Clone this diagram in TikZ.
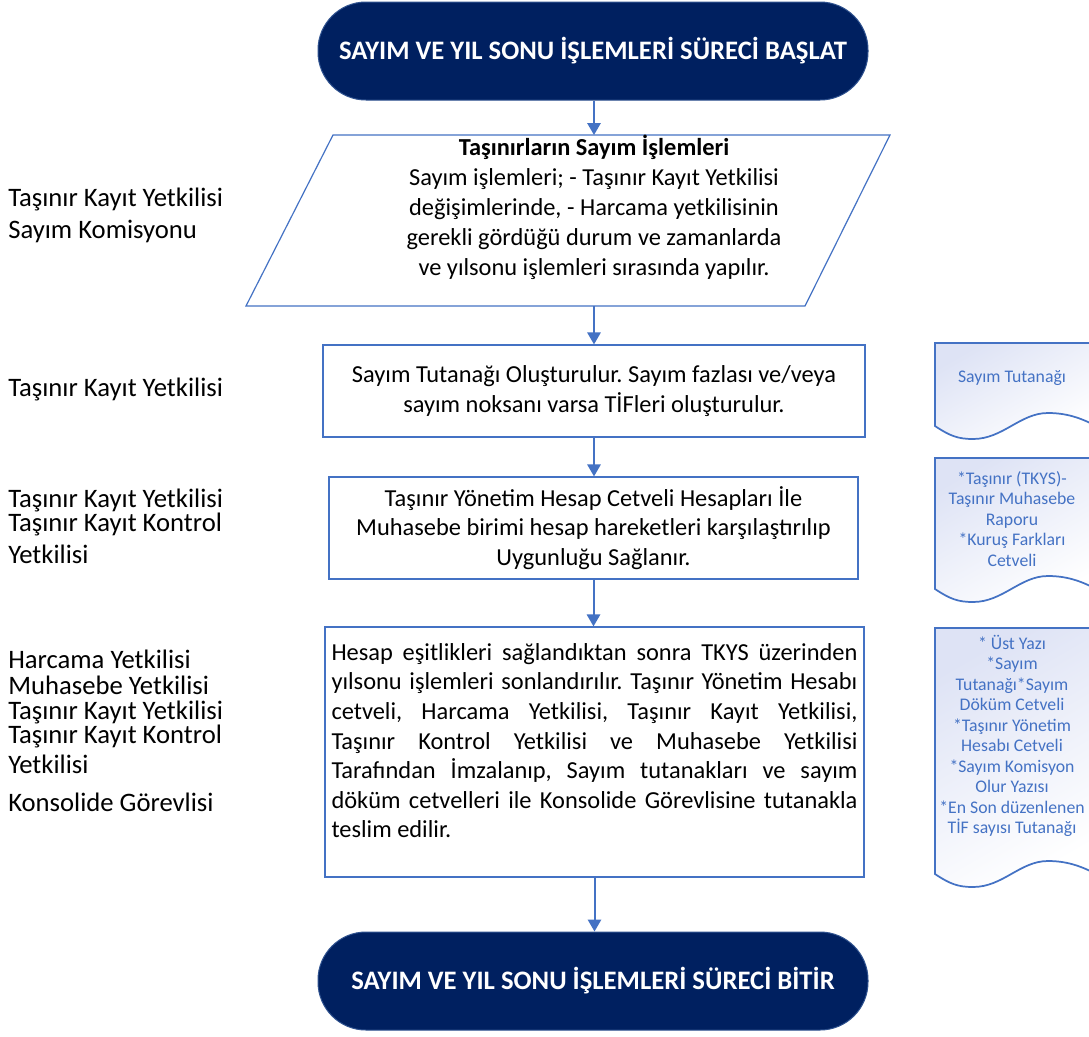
\documentclass[tikz,border=0pt]{standalone}
\usepackage{fontspec}
\setmainfont{Carlito}
\usetikzlibrary{arrows.meta}

\definecolor{navy}{HTML}{002060}
\definecolor{navyline}{HTML}{2F528F}
\definecolor{flow}{HTML}{4472C4}
\definecolor{docfill}{RGB}{222,227,245}
\setlength{\lineskiplimit}{-20pt}
\hyphenpenalty=10000
\frenchspacing

% document shape: top y, left bottom y
\newcommand{\docshape}[2]{%
  \path[doc] (935,#1) -- (1100,#1) -- (1100,#2+2)
    .. controls (1085,#2-6) and (1070,#2-13) .. (1048,#2-13)
    .. controls (1020,#2-13) and (1003,#2+13) .. (973,#2+13)
    .. controls (958,#2+13) and (950,#2+10) .. (935,#2) -- cycle;}

\begin{document}
\begin{tikzpicture}[x=0.75pt,y=-0.75pt,
    term/.style={draw=navyline,line width=0.75pt,fill=navy,text=white,
      font=\fontsize{20}{24}\selectfont\bfseries,rounded corners=36pt,
      minimum width=412.5pt,minimum height=73.5pt},
    proc/.style={draw=flow,line width=0.9pt,align=center,
      font=\fontsize{18.3}{22.3}\selectfont},
    lbl/.style={anchor=base west,align=left,inner sep=0pt,
      font=\fontsize{20}{18}\selectfont},
    doc/.style={draw=flow,line width=1.3pt,top color=docfill,
      bottom color=white,shading angle=30},
    doctxt/.style={text=flow,align=center,
      font=\fontsize{13.3}{15.4}\selectfont},
    arw/.style={draw=flow,line width=1.5pt,-{Triangle[width=10pt,length=9pt]}} ]
  \useasboundingbox (0,0) rectangle (1089,1036);
  \fill[white] (0,0) rectangle (1089,1036);

  % main flow
  \node[term] (Start) at (593,51) {SAYIM VE YIL SONU İŞLEMLERİ SÜRECİ BAŞLAT};

  \draw[flow,line width=0.9pt] (333,135) -- (890,135) -- (805,306) -- (246,306) -- cycle;
  \coordinate (CountTop) at (594,135);
  \coordinate (CountBot) at (594,306);
  \node[align=center,font=\fontsize{18.3}{22.5}\selectfont] (Count) at (594,207)
    {\textbf{Taşınırların Sayım İşlemleri}\\
     Sayım işlemleri; - Taşınır Kayıt Yetkilisi\\
     değişimlerinde, - Harcama yetkilisinin\\
     gerekli gördüğü durum ve zamanlarda\\
     ve yılsonu işlemleri sırasında yapılır.};

  \node[proc,minimum width=406.5pt,minimum height=69pt] (Report) at (594,391)
    {Sayım Tutanağı Oluşturulur. Sayım fazlası ve/veya\\
     sayım noksanı varsa TİFleri oluşturulur.};
  \node[proc,minimum width=396.75pt,minimum height=76.5pt] (Compare) at (593.5,528)
    {Taşınır Yönetim Hesap Cetveli Hesapları İle\\
     Muhasebe birimi hesap hareketleri karşılaştırılıp\\
     Uygunluğu Sağlanır.};
  \node[proc,minimum width=404.25pt,minimum height=187.5pt] (Sign) at (594.5,752) {};
  \node[anchor=north,text width=394.5pt,align=justify,inner sep=0pt,
    font=\fontsize{18.3}{22.2}\selectfont] (SignText) at (594.5,643)
    {Hesap eşitlikleri sağlandıktan sonra TKYS üzerinden\linebreak
     yılsonu işlemleri sonlandırılır. Taşınır Yönetim Hesabı\linebreak
     cetveli, Harcama Yetkilisi, Taşınır Kayıt Yetkilisi,\linebreak
     Taşınır Kontrol Yetkilisi ve Muhasebe Yetkilisi\linebreak
     Tarafından İmzalanıp, Sayım tutanakları ve sayım\linebreak
     döküm cetvelleri ile Konsolide Görevlisine tutanakla\linebreak
     teslim edilir.};

  \node[term] (End) at (593,981) {SAYIM VE YIL SONU İŞLEMLERİ SÜRECİ BİTİR};

  \draw[arw] (Start.south -| CountTop) -- (CountTop);
  \draw[arw] (CountBot) -- (Report.north -| CountBot);
  \draw[arw] (Report.south) -- (Report.south |- Compare.north);
  \draw[arw] (Compare.south) -- (Compare.south |- Sign.north);
  \draw[arw] (Sign.south) -- (Sign.south |- End.north);

  % roles (anchored at the last line)
  \node[lbl] (RoleA) at (8,238) {Taşınır Kayıt Yetkilisi\\[6pt] Sayım Komisyonu};
  \node[lbl] (RoleB) at (8,396) {Taşınır Kayıt Yetkilisi};
  \node[lbl] (RoleC) at (8,563) {Taşınır Kayıt Yetkilisi\\ Taşınır Kayıt Kontrol\\[6pt] Yetkilisi};
  \node[lbl] (RoleD) at (8,811) {Harcama Yetkilisi\\[1.5pt] Muhasebe Yetkilisi\\[0.75pt]
    Taşınır Kayıt Yetkilisi\\ Taşınır Kayıt Kontrol\\[4.5pt] Yetkilisi\\[10.5pt]
    Konsolide Görevlisi};

  % documents
  \begin{scope}
    \clip (0,0) rectangle (1089,1036);
    \docshape{343}{426}
    \docshape{458}{589}
    \docshape{628}{874}
  \end{scope}
  \node[doctxt] (DocOne) at (1012,378) {Sayım Tutanağı};
  \node[doctxt] (DocTwo) at (1012,519) {*Taşınır (TKYS)-\\ Taşınır Muhasebe\\ Raporu\\
    *Kuruş Farkları\\ Cetveli};
  \node[doctxt] (DocThree) at (1012,736) {* Üst Yazı\\ *Sayım\\ Tutanağı*Sayım\\
    Döküm Cetveli\\ *Taşınır Yönetim\\ Hesabı Cetveli\\ *Sayım Komisyon\\
    Olur Yazısı\\ *En Son düzenlenen\\ TİF sayısı Tutanağı};
\end{tikzpicture}
\end{document}
